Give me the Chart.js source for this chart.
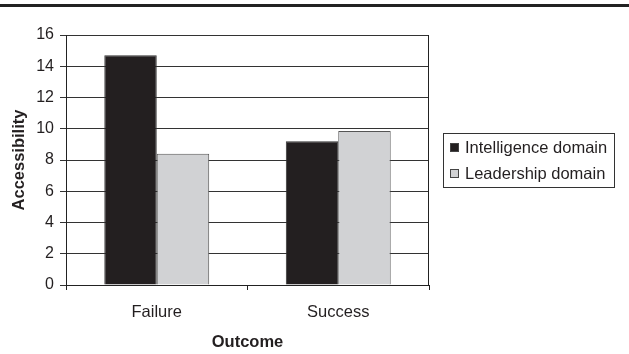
<!DOCTYPE html>
<html>
<head>
<meta charset="utf-8">
<style>
  html, body { margin: 0; padding: 0; background: #fff; }
  #wrap { position: relative; width: 629px; height: 354px; }
</style>
<script src="https://cdn.jsdelivr.net/npm/chart.js@4/dist/chart.umd.min.js"></script>
</head>
<body>
<div id="wrap"><canvas id="chart" width="629" height="354"></canvas></div>
<script>
const outcomes = ['Failure', 'Success'];
const intelligence = [14.7, 9.2];
const leadership = [8.4, 9.85];
const yTicks = [0, 2, 4, 6, 8, 10, 12, 14, 16];

const ink = '#231f20';
const font = 'Liberation Sans, Arial, Helvetica, sans-serif';

// right-hand frame edge plus the heavy rule across the top
const frame = {
  id: 'frame',
  afterDraw(chart) {
    const { ctx, chartArea: a } = chart;
    ctx.save();
    ctx.strokeStyle = '#222';
    ctx.lineWidth = 1;
    ctx.beginPath();
    ctx.moveTo(Math.round(a.right) - 0.5, a.top);
    ctx.lineTo(Math.round(a.right) - 0.5, a.bottom);
    ctx.stroke();
    ctx.fillStyle = '#222';
    ctx.fillRect(0, 4, chart.width, 3);
    ctx.restore();
  }
};

// boxed legend to the right of the plot
const boxLegend = {
  id: 'boxLegend',
  afterDraw(chart) {
    const { ctx } = chart;
    const x = 443, y = 133, w = 171, h = 54;
    ctx.save();
    ctx.strokeStyle = '#333';
    ctx.lineWidth = 1;
    ctx.strokeRect(x + 0.5, y + 0.5, w, h);
    ctx.font = '16.5px ' + font;
    ctx.textBaseline = 'middle';
    chart.data.datasets.forEach((ds, i) => {
      const cy = y + 15 + i * 26;
      ctx.fillStyle = ds.backgroundColor;
      ctx.fillRect(x + 7, cy - 5, 9, 9);
      ctx.strokeStyle = '#444';
      ctx.strokeRect(x + 7.5, cy - 4.5, 8, 8);
      ctx.fillStyle = ink;
      ctx.fillText(ds.label, x + 22, cy);
    });
    ctx.restore();
  }
};

new Chart(document.getElementById('chart'), {
  type: 'bar',
  data: {
    labels: outcomes,
    datasets: [
      {
        label: 'Intelligence domain',
        data: intelligence,
        backgroundColor: '#231f20',
        borderColor: '#333',
        borderWidth: 1,
        categoryPercentage: 0.578,
        barPercentage: 1
      },
      {
        label: 'Leadership domain',
        data: leadership,
        backgroundColor: '#d1d2d4',
        borderColor: '#555',
        borderWidth: 1,
        categoryPercentage: 0.578,
        barPercentage: 1
      }
    ]
  },
  options: {
    responsive: false,
    animation: false,
    devicePixelRatio: 1,
    layout: { padding: { top: 35, right: 200, left: 0, bottom: 0 } },
    plugins: {
      legend: { display: false },
      tooltip: { enabled: false }
    },
    scales: {
      x: {
        afterFit: s => { s.height = 69; },
        grid: {
          offset: true,
          drawOnChartArea: false,
          color: '#222',
          tickLength: 5
        },
        border: { color: '#222', width: 1 },
        ticks: { color: ink, font: { family: font, size: 16.5 }, padding: 13 },
        title: {
          display: true,
          text: 'Outcome',
          color: ink,
          font: { family: font, size: 16.5, weight: 'bold' },
          padding: { top: 0, bottom: 2 }
        }
      },
      y: {
        min: 0,
        max: 16,
        afterFit: s => { s.width = 66; },
        afterBuildTicks: s => { s.ticks = yTicks.map(v => ({ value: v })); },
        grid: { color: '#333', tickLength: 6 },
        border: { color: '#222', width: 1 },
        ticks: { color: ink, font: { family: font, size: 16 }, padding: 6 },
        title: {
          display: true,
          text: 'Accessibility',
          color: ink,
          font: { family: font, size: 16.5, weight: 'bold' },
          padding: { top: 10, bottom: 0 }
        }
      }
    }
  },
  plugins: [frame, boxLegend]
});
</script>
</body>
</html>
